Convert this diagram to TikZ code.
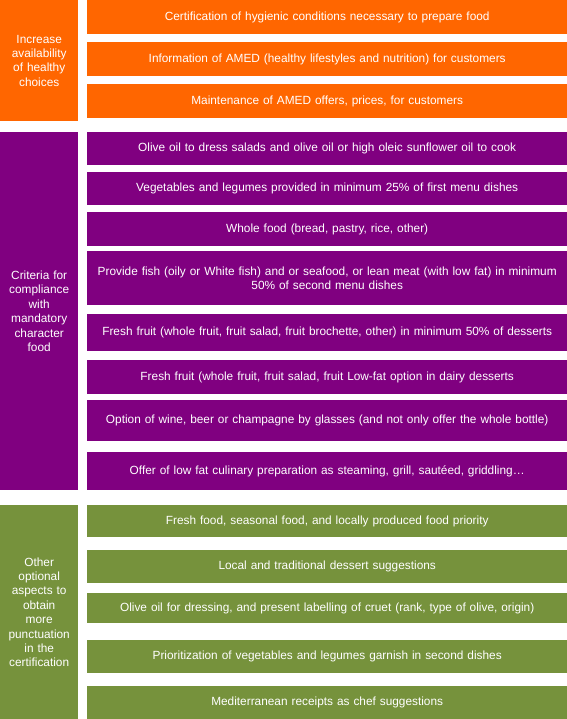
\documentclass[tikz,border=0pt]{standalone}
\usepackage{fontspec}
\setmainfont{Liberation Sans}
\definecolor{cOrange}{HTML}{FF6600}
\definecolor{cPurple}{HTML}{800080}
\definecolor{cGreen}{HTML}{76923C}
\tikzset{
  cell/.style={fill=#1, draw=none, text=white, anchor=north west, inner sep=0pt,
    align=center, font=\fontsize{11.85bp}{14.4bp}\selectfont},
  rbox/.style={cell=#1, minimum width=480bp, text width=474bp},
  lbox/.style={cell=#1, minimum width=78bp, text width=77bp},
}
\begin{document}
\begin{tikzpicture}[x=1bp,y=-1bp]
\useasboundingbox (0,0) rectangle (567,719);
% orange group
\node[lbox=cOrange, minimum height=121bp] (o0) at (0,0) {Increase\\availability\\of healthy\\choices};
\node[rbox=cOrange, minimum height=34bp] (o1) at (87,0) {Certification of hygienic conditions necessary to prepare food};
\node[rbox=cOrange, minimum height=34bp] (o2) at (87,42) {Information of AMED (healthy lifestyles and nutrition) for customers};
\node[rbox=cOrange, minimum height=34bp] (o3) at (87,84) {Maintenance of AMED offers, prices, for customers};
% purple group
\node[lbox=cPurple, minimum height=358bp] (p0) at (0,132) {Criteria for\\compliance\\with\\mandatory\\character\\food};
\node[rbox=cPurple, minimum height=33bp] (p1) at (87,132) {Olive oil to dress salads and olive oil or high oleic sunflower oil to cook};
\node[rbox=cPurple, minimum height=33bp] (p2) at (87,172) {Vegetables and legumes provided in minimum 25\% of first menu dishes};
\node[rbox=cPurple, minimum height=34bp] (p3) at (87,212) {Whole food (bread, pastry, rice, other)};
\node[rbox=cPurple, minimum height=54bp] (p4) at (87,251) {Provide fish (oily or White fish) and or seafood, or lean meat (with low fat) in minimum\\50\% of second menu dishes};
\node[rbox=cPurple, minimum height=37bp] (p5) at (87,314) {Fresh fruit (whole fruit, fruit salad, fruit brochette, other) in minimum 50\% of desserts};
\node[rbox=cPurple, minimum height=34bp] (p6) at (87,360) {Fresh fruit (whole fruit, fruit salad, fruit Low-fat option in dairy desserts};
\node[rbox=cPurple, minimum height=41bp] (p7) at (87,400) {Option of wine, beer or champagne by glasses (and not only offer the whole bottle)};
\node[rbox=cPurple, minimum height=38bp] (p8) at (87,452) {Offer of low fat culinary preparation as steaming, grill, sautéed, griddling…};
% green group
\node[lbox=cGreen, minimum height=214bp] (g0) at (0,505) {Other\\optional\\aspects to\\obtain\\more\\punctuation\\in the\\certification};
\node[rbox=cGreen, minimum height=32bp] (g1) at (87,505) {Fresh food, seasonal food, and locally produced food priority};
\node[rbox=cGreen, minimum height=33bp] (g2) at (87,550) {Local and traditional dessert suggestions};
\node[rbox=cGreen, minimum height=30bp] (g3) at (87,593) {Olive oil for dressing, and present labelling of cruet (rank, type of olive, origin)};
\node[rbox=cGreen, minimum height=33bp] (g4) at (87,640) {Prioritization of vegetables and legumes garnish in second dishes};
\node[rbox=cGreen, minimum height=33bp] (g5) at (87,686) {Mediterranean receipts as chef suggestions};
\end{tikzpicture}
\end{document}
